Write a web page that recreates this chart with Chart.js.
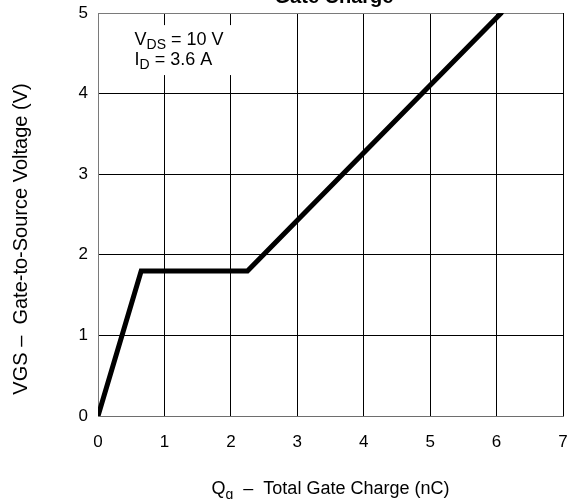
<!DOCTYPE html>
<html>
<head>
<meta charset="utf-8">
<script src="https://cdn.jsdelivr.net/npm/chart.js@4/dist/chart.umd.min.js"></script>
<style>
  html, body { margin: 0; padding: 0; background: #ffffff; }
  #wrap { width: 568px; height: 499px; position: relative; }
</style>
</head>
<body>
<div id="wrap"><canvas id="c" width="568" height="499"></canvas></div>
<script>
// ---- Data ----
const chargeNC = [0, 0.65, 2.25, 6.07];      // Qg (nC)
const vgsVolts = [0, 1.8, 1.8, 5.0];          // VGS (V)
const xTicks = [0, 1, 2, 3, 4, 5, 6, 7];
const yTicks = [0, 1, 2, 3, 4, 5];
const chartTitle = 'Gate Charge';
const yTitle = 'VGS \u2013  Gate-to-Source Voltage (V)';
const xTitleParts = [['Q', 'n'], ['g', 's'], ['  \u2013  Total Gate Charge (nC)', 'n']];
const noteLine1 = [['V', 'n'], ['DS', 's'], [' = 10 V', 'n']];
const noteLine2 = [['I', 'n'], ['D', 's'], [' = 3.6 A', 'n']];

const FONT = "'Liberation Sans', Arial, Helvetica, sans-serif";

function richWidth(ctx, parts, size, subSize) {
  let w = 0;
  for (const [t, k] of parts) {
    ctx.font = (k === 's' ? subSize : size) + 'px ' + FONT;
    w += ctx.measureText(t).width;
  }
  return w;
}
function drawRich(ctx, parts, x, y, size, subSize, subDrop) {
  let cx = x;
  ctx.textBaseline = 'alphabetic';
  ctx.textAlign = 'left';
  for (const [t, k] of parts) {
    ctx.font = (k === 's' ? subSize : size) + 'px ' + FONT;
    ctx.fillText(t, cx, k === 's' ? y + subDrop : y);
    cx += ctx.measureText(t).width;
  }
}

const decor = {
  id: 'decor',
  beforeDatasetsDraw(chart) {
    const ctx = chart.ctx;
    const xs = chart.scales.x, ys = chart.scales.y;
    ctx.save();
    // white box behind the conditions note
    const bx0 = xs.getPixelForValue(0.45), bx1 = xs.getPixelForValue(2.2);
    const by0 = ys.getPixelForValue(4.85), by1 = ys.getPixelForValue(4.23);
    ctx.fillStyle = '#ffffff';
    ctx.fillRect(bx0, by0, bx1 - bx0, by1 - by0);
    ctx.fillStyle = '#000000';
    const tx = xs.getPixelForValue(0.55);
    drawRich(ctx, noteLine1, tx, ys.getPixelForValue(4.6), 18, 14, 4);
    drawRich(ctx, noteLine2, tx, ys.getPixelForValue(4.35), 18, 14, 4);
    ctx.restore();
  },
  afterDraw(chart) {
    const ctx = chart.ctx;
    const area = chart.chartArea;
    ctx.save();
    ctx.fillStyle = '#000000';
    // title (mostly cut off at the top edge, as in the reference)
    ctx.font = 'bold 20px ' + FONT;
    ctx.textAlign = 'center';
    ctx.textBaseline = 'alphabetic';
    ctx.fillText(chartTitle, 334, 3);
    // x axis title
    const w = richWidth(ctx, xTitleParts, 18, 14);
    const cx = (area.left + area.right) / 2;
    drawRich(ctx, xTitleParts, cx - w / 2, 494, 18, 14, 5);
    // y axis title
    ctx.translate(27, 239);
    ctx.rotate(-Math.PI / 2);
    ctx.font = '20px ' + FONT;
    ctx.textAlign = 'center';
    ctx.textBaseline = 'alphabetic';
    ctx.fillText(yTitle, 0, 0);
    ctx.restore();
  }
};

new Chart(document.getElementById('c'), {
  type: 'line',
  data: {
    datasets: [{
      data: chargeNC.map((q, i) => ({ x: q, y: vgsVolts[i] })),
      borderColor: '#000000',
      borderWidth: 5,
      pointRadius: 0,
      tension: 0,
      fill: false,
      borderCapStyle: 'round',
      borderJoinStyle: 'miter'
    }]
  },
  options: {
    responsive: false,
    animation: false,
    devicePixelRatio: 1,
    layout: { padding: { top: 13, right: 5, left: 0, bottom: 0 } },
    plugins: { legend: { display: false }, tooltip: { enabled: false }, title: { display: false } },
    scales: {
      x: {
        type: 'linear',
        min: xTicks[0], max: xTicks[xTicks.length - 1],
        afterBuildTicks: s => { s.ticks = xTicks.map(v => ({ value: v })); },
        afterFit: s => { s.height = 83; s.paddingLeft = 0; s.paddingRight = 0; },
        grid: { color: '#000000', lineWidth: 1, drawTicks: false },
        border: { color: '#6e6e6e', width: 1 },
        ticks: { color: '#000000', padding: 16, font: { family: FONT, size: 17 } }
      },
      y: {
        type: 'linear',
        min: yTicks[0], max: yTicks[yTicks.length - 1],
        afterBuildTicks: s => { s.ticks = yTicks.map(v => ({ value: v })); },
        afterFit: s => { s.width = 98; s.paddingTop = 0; s.paddingBottom = 0; },
        grid: {
          color: c => (c.tick && c.tick.value === 5 ? '#7a7a7a' : '#000000'),
          lineWidth: 1, drawTicks: false
        },
        border: { color: '#7a7a7a', width: 1 },
        ticks: { color: '#000000', padding: 10, font: { family: FONT, size: 17 } }
      }
    }
  },
  plugins: [decor]
});
</script>
</body>
</html>
